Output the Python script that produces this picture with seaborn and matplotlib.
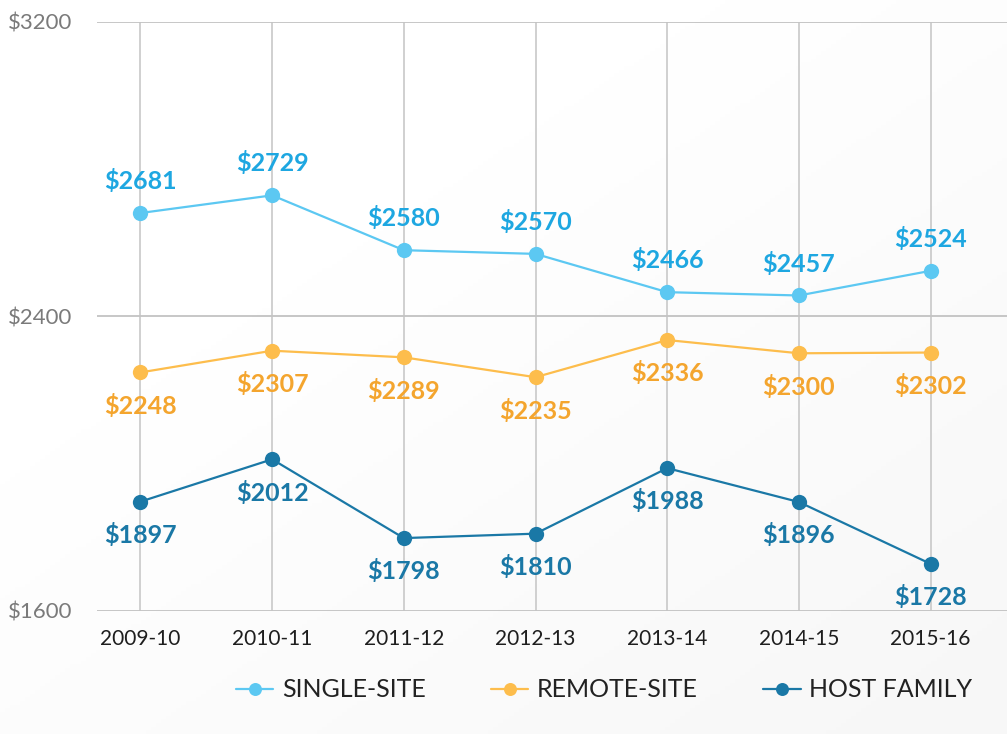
import numpy as np
import pandas as pd
import matplotlib.pyplot as plt
import seaborn as sns

years = ['2009-10', '2010-11', '2011-12', '2012-13', '2013-14', '2014-15', '2015-16']
single_site = [2681, 2729, 2580, 2570, 2466, 2457, 2524]
remote_site = [2248, 2307, 2289, 2235, 2336, 2300, 2302]
host_family = [1897, 2012, 1798, 1810, 1988, 1896, 1728]
series_names = ['SINGLE-SITE', 'REMOTE-SITE', 'HOST FAMILY']
y_ticks = [1600, 2400, 3200]

line_colors = {'SINGLE-SITE': '#5cc8f2', 'REMOTE-SITE': '#fdbd4c', 'HOST FAMILY': '#1a78a6'}
text_colors = {'SINGLE-SITE': '#1ea7e1', 'REMOTE-SITE': '#f4a52e', 'HOST FAMILY': '#1a78a6'}
label_offset = {'SINGLE-SITE': 23, 'REMOTE-SITE': -24, 'HOST FAMILY': -24}

sns.set_theme(style='white')
plt.rcParams['font.family'] = ['Lato', 'DejaVu Sans']

df = pd.DataFrame({
    'year_idx': list(range(len(years))) * 3,
    'value': single_site + remote_site + host_family,
    'series': [s for s in series_names for _ in years],
})

fig = plt.figure(figsize=(10.07, 7.34), dpi=100)

# soft grey gradient background
bg = fig.add_axes([0, 0, 1, 1], zorder=-10)
gx, gy = np.meshgrid(np.linspace(0, 1, 200), np.linspace(0, 1, 200))
grad = np.clip(0.55 * gx + 0.6 * gy - 0.35, 0, 1)
bg.imshow(grad, cmap='Greys', vmin=0, vmax=12, aspect='auto', origin='upper',
          extent=[0, 1, 0, 1])
bg.axis('off')

ax = fig.add_axes([0.0963, 0.1676, 0.9037, 0.8025])
ax.patch.set_alpha(0)

sns.lineplot(data=df, x='year_idx', y='value', hue='series', hue_order=series_names,
             palette=line_colors, marker='o', markersize=11, markeredgewidth=0,
             linewidth=1.6, ax=ax, zorder=3)

ax.set_xlim(-0.33, 6.58)
ax.set_ylim(1600, 3200)

# grid
for yv in y_ticks:
    ax.axhline(yv, color='#bdbdbd', linewidth=1.2, zorder=1)
for i in range(len(years)):
    ax.plot([i, i], [1600, 3200], color='#c4c4c4', linewidth=1.1, zorder=1)

for s, vals in zip(series_names, [single_site, remote_site, host_family]):
    for i, v in enumerate(vals):
        ax.annotate(f'${v}', (i, v), xytext=(0, label_offset[s]), textcoords='offset points',
                    ha='center', va='center', fontsize=18, fontweight='bold',
                    color=text_colors[s], zorder=4)

for sp in ax.spines.values():
    sp.set_visible(False)
ax.set_xticks(range(len(years)))
ax.set_xticklabels(years, fontsize=15, color='#1e1e1e')
ax.set_yticks(y_ticks)
ax.set_yticklabels([f'${t}' for t in y_ticks], fontsize=16, color='#7a7a7a')
ax.tick_params(axis='x', length=0, pad=13)
ax.tick_params(axis='y', length=0, pad=18)
ax.set_xlabel('')
ax.set_ylabel('')

handles, labels = ax.get_legend_handles_labels()
ax.get_legend().remove()
fig.legend(handles, labels, loc='center', bbox_to_anchor=(0.6, 0.06), ncol=3,
           frameon=False, fontsize=18, handlelength=1.5, columnspacing=2.6,
           handletextpad=0.35, markerscale=0.85)
for t in fig.legends[0].get_texts():
    t.set_color('#222222')

fig.savefig('out.png', dpi=100)
